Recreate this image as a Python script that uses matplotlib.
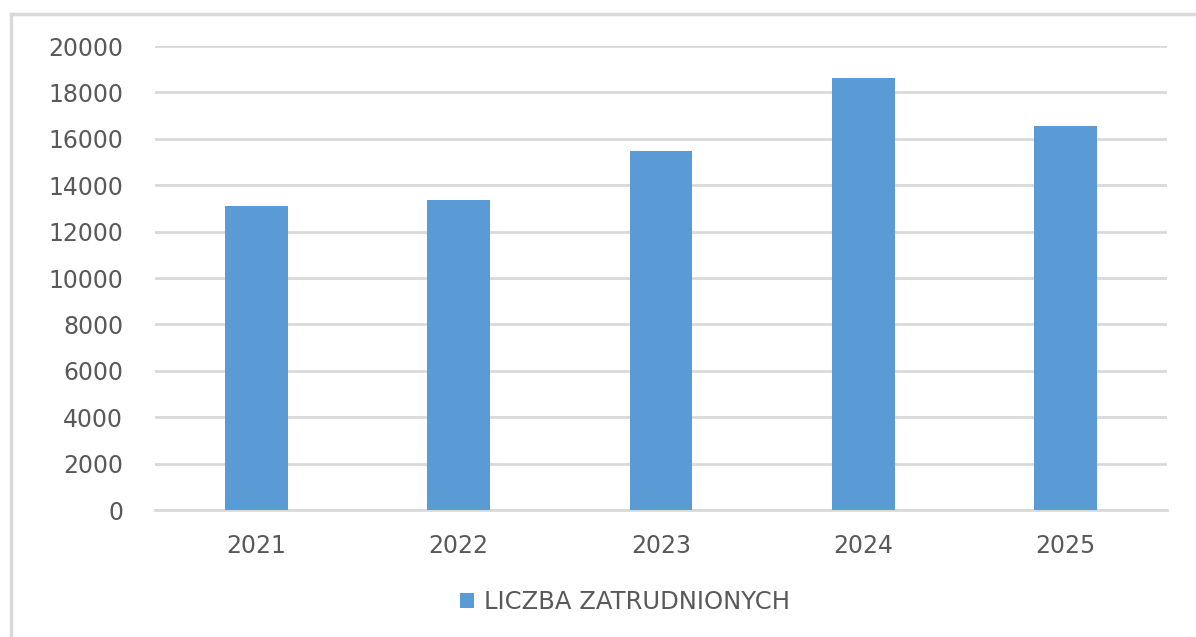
import numpy as np
import matplotlib.pyplot as plt
from matplotlib.lines import Line2D

years = ['2021', '2022', '2023', '2024', '2025']
employed = [13120, 13370, 15460, 18600, 16540]
y_ticks = list(range(0, 20001, 2000))

BAR_COLOR = '#5b9bd5'
GRID_COLOR = '#d9d9d9'
TEXT_COLOR = '#595959'

W, H = 1196, 637
fig = plt.figure(figsize=(W / 100, H / 100), dpi=100)
ax = fig.add_axes([155 / W, 1 - 510 / H, (1167 - 155) / W, (510 - 46) / H])

x = np.arange(len(years))
ax.bar(x, employed, width=0.31, color=BAR_COLOR, label='LICZBA ZATRUDNIONYCH', zorder=3)

ax.set_xlim(-0.5, len(years) - 0.5)
ax.set_ylim(0, 20000)
ax.set_yticks(y_ticks)
ax.set_yticklabels([str(v) for v in y_ticks])
ax.set_xticks(x)
ax.set_xticklabels(years)

ax.grid(axis='y', color=GRID_COLOR, linewidth=2, zorder=0)
for side in ['top', 'right', 'left']:
    ax.spines[side].set_visible(False)
ax.spines['bottom'].set_color(GRID_COLOR)
ax.spines['bottom'].set_linewidth(2)
ax.tick_params(axis='both', length=0, labelsize=17, labelcolor=TEXT_COLOR)
ax.tick_params(axis='y', pad=23)
ax.tick_params(axis='x', pad=17)

fig.legend(loc='center', bbox_to_anchor=(625 / W, 1 - 602 / H), frameon=False,
           fontsize=17.5, labelcolor=TEXT_COLOR, handlelength=0.6, handleheight=0.6,
           handletextpad=0.4)

# outer chart frame (top and left edges only visible)
fig.add_artist(Line2D([11 / W, 1], [1 - 14 / H, 1 - 14 / H], color=GRID_COLOR, linewidth=2.5))
fig.add_artist(Line2D([11 / W, 11 / W], [0, 1 - 14 / H], color=GRID_COLOR, linewidth=2.5))

fig.savefig('out.png', dpi=100)
